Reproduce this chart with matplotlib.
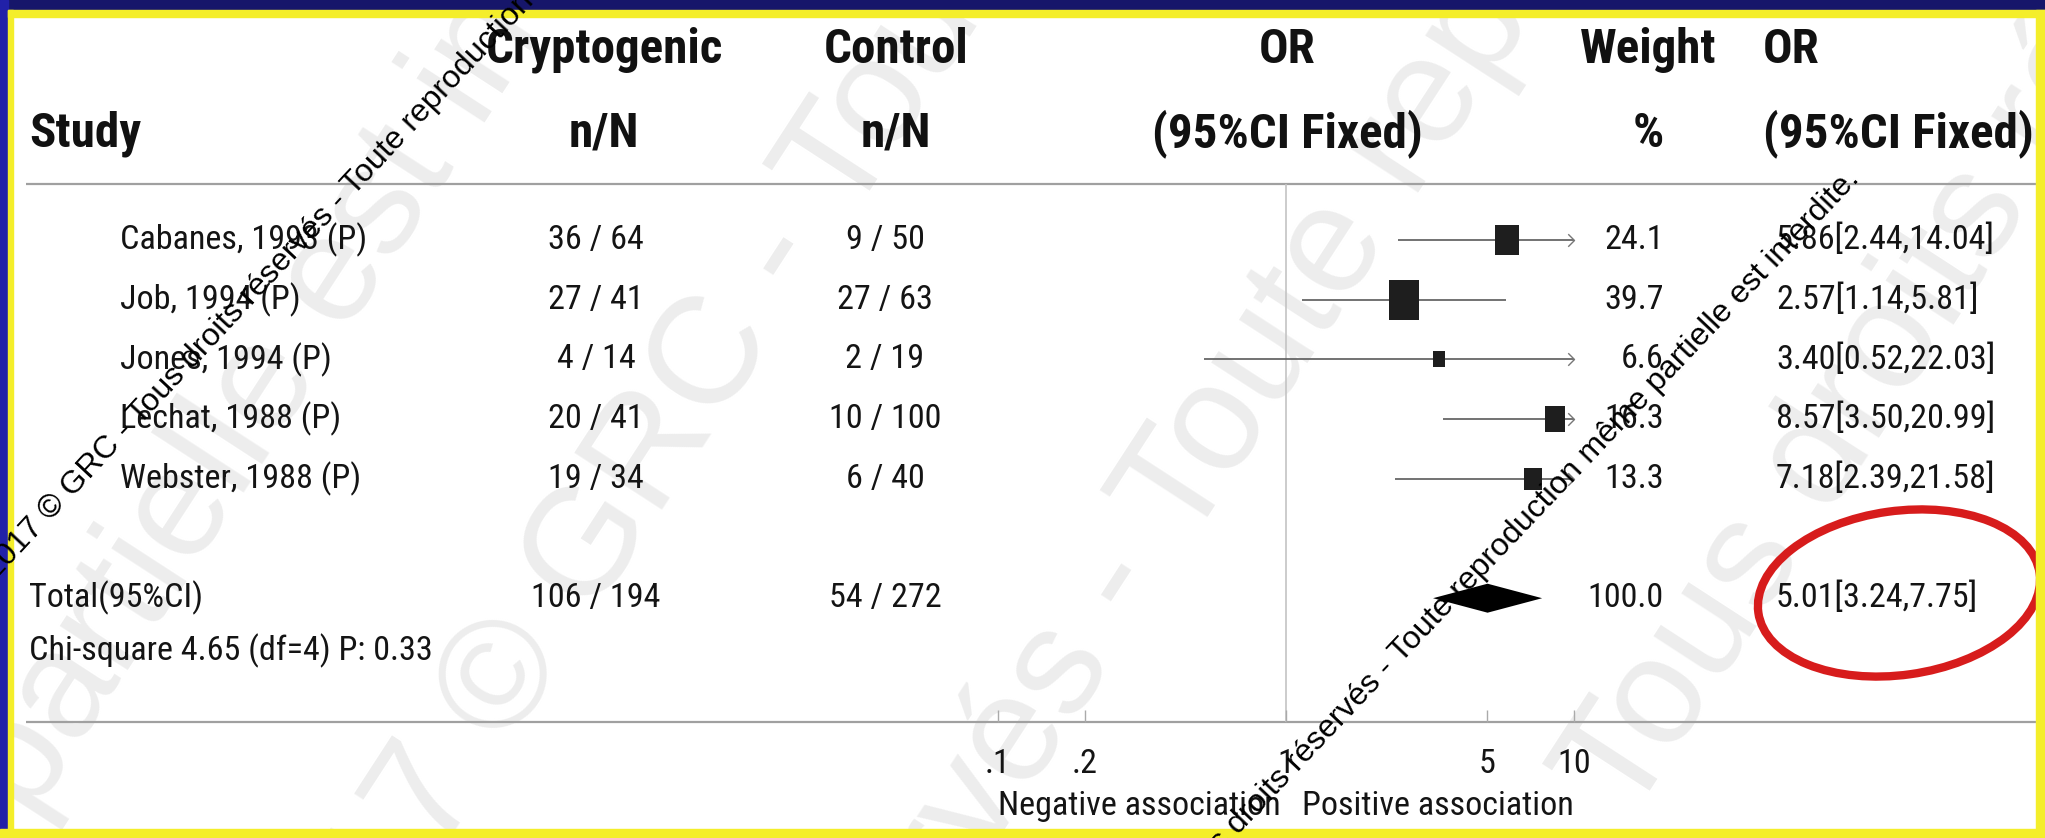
import matplotlib
matplotlib.use("Agg")
import matplotlib.pyplot as plt
from matplotlib import font_manager
from matplotlib.font_manager import FontProperties
from matplotlib.patches import Ellipse, Rectangle
from matplotlib.path import Path
from matplotlib.textpath import TextPath
import numpy as np

# --- données ---
studies = ["Cabanes, 1993 (P)", "Job, 1994 (P)", "Jones, 1994 (P)",
           "Lechat, 1988 (P)", "Webster, 1988 (P)"]
crypto_nN = ["36 / 64", "27 / 41", "4 / 14", "20 / 41", "19 / 34"]
control_nN = ["9 / 50", "27 / 63", "2 / 19", "10 / 100", "6 / 40"]
odds_ratio = [5.86, 2.57, 3.40, 8.57, 7.18]
ci_low = [2.44, 1.14, 0.52, 3.50, 2.39]
ci_high = [14.04, 5.81, 22.03, 20.99, 21.58]
weights = [24.1, 39.7, 6.6, 16.3, 13.3]

total_label = "Total(95%CI)"
total_crypto = "106 / 194"
total_control = "54 / 272"
total_or = 5.01
total_low = 3.24
total_high = 7.75
total_weight = 100.0
het_text = "Chi-square 4.65 (df=4) P: 0.33"

x_ticks = [0.1, 0.2, 1, 5, 10]
x_ticklabels = [".1", ".2", "1", "5", "10"]
x_min_plot, x_max_plot = 0.1, 10

watermark = "2017 © GRC - Tous droits réservés - Toute reproduction même partielle est interdite."
# morceaux du grand filigrane visibles en bas de chaque diagonale
big_fragments = ["partielle est interdite.", "7 © GRC - Tous", "vés - Toute", "Tous droits"]
big_bottom_x = [0, 430, 980, 1600]

# --- polices : police étroite, taille ajustée sur la largeur lue ---
names = {f.name for f in font_manager.fontManager.ttflist}
NARROW = "Roboto Condensed" if "Roboto Condensed" in names else "Liberation Sans"


def text_width(text, family, weight="normal"):
    """Largeur (en points) du texte pour une taille de 1."""
    return TextPath((0, 0), text, size=1,
                    prop=FontProperties(family=family, weight=weight)).get_extents().width


HEAD = 265 * 0.72 / text_width("(95%CI Fixed)", NARROW, "bold")
BODY = 400 * 0.72 / text_width(het_text, NARROW)

W, H = 2045, 838
fig = plt.figure(figsize=(W / 100, H / 100), dpi=100)
fig.patch.set_facecolor("white")

# axe "pixels" pour le tableau
ax = fig.add_axes([0, 0, 1, 1])
ax.set_xlim(0, W)
ax.set_ylim(H, 0)
ax.axis("off")

# axe log pour le forest plot (1 -> x=1286 px, 288 px par décade)
X1, DEC = 1286, 288
fp = fig.add_axes([0, 0, 1, 1])
fp.set_xscale("log")
fp.set_xlim(10 ** (-X1 / DEC), 10 ** ((W - X1) / DEC))
fp.set_ylim(H, 0)
fp.patch.set_visible(False)
for s in fp.spines.values():
    s.set_visible(False)
fp.yaxis.set_visible(False)

# grand filigrane clair en fond
BIG, ANG = 110, 57
th = np.deg2rad(ANG)
long_wm = watermark + " " + watermark
for xb, frag in zip(big_bottom_x, big_fragments):
    idx = long_wm.find(frag, len(watermark) // 2)
    d = text_width(long_wm[:idx], "Liberation Sans") * BIG * 100 / 72
    ax.text(xb - d * np.cos(th), H + 30 + d * np.sin(th), long_wm, fontsize=BIG,
            color="#ededed", rotation=ANG, rotation_mode="anchor", ha="left",
            va="baseline", family="Liberation Sans", zorder=0, clip_on=True)

# cadre
ax.add_patch(Rectangle((0, 0), W, 10, color="#16166a", zorder=30))
ax.add_patch(Rectangle((0, 0), 8, H, color="#2121a8", zorder=30))
ax.add_patch(Rectangle((8, 10), W, 7, color="#f4ee2a", zorder=30))
ax.add_patch(Rectangle((8, 10), 5, H, color="#f4ee2a", zorder=30))
ax.add_patch(Rectangle((0, 829), W, 9, color="#f4ee2a", zorder=30))
ax.add_patch(Rectangle((2036, 10), 9, H, color="#f4ee2a", zorder=30))

# lignes de séparation
SEP_Y, AXIS_Y = 184, 722
ax.hlines([SEP_Y, AXIS_Y], 26, 2036, color="#a0a0a0", lw=1.6, zorder=2)

# en-têtes
L1, L2 = 50, 134
hkw = dict(fontsize=HEAD, fontweight="bold", family=NARROW, va="center",
           color="#111111", zorder=3)
ax.text(29, L2, "Study", ha="left", **hkw)
ax.text(604, L1, "Cryptogenic", ha="center", **hkw)
ax.text(604, L2, "n/N", ha="center", **hkw)
ax.text(896, L1, "Control", ha="center", **hkw)
ax.text(896, L2, "n/N", ha="center", **hkw)
ax.text(1287, L1, "OR", ha="center", **hkw)
ax.text(1287, L2, "(95%CI Fixed)", ha="center", **hkw)
ax.text(1648, L1, "Weight", ha="center", **hkw)
ax.text(1648, L2, "%", ha="center", **hkw)
ax.text(1763, L1, "OR", ha="left", **hkw)
ax.text(1763, L2, "(95%CI Fixed)", ha="left", **hkw)

# lignes d'études
ROW0, STEP = 240, 59.7
row_y = ROW0 + STEP * np.arange(len(studies))
total_y = ROW0 + STEP * (len(studies) + 1)
het_y = 651
bkw = dict(fontsize=BODY, family=NARROW, va="center", color="#141414", zorder=3)
for i, y in enumerate(row_y):
    ax.text(120, y, studies[i], ha="left", **bkw)
    ax.text(596, y, crypto_nN[i], ha="center", **bkw)
    ax.text(885, y, control_nN[i], ha="center", **bkw)
    ax.text(1664, y, f"{weights[i]:.1f}", ha="right", **bkw)
    ax.text(1776, y, f"{odds_ratio[i]:.2f}[{ci_low[i]:.2f},{ci_high[i]:.2f}]", ha="left", **bkw)

ax.text(29, total_y, total_label, ha="left", **bkw)
ax.text(596, total_y, total_crypto, ha="center", **bkw)
ax.text(885, total_y, total_control, ha="center", **bkw)
ax.text(1664, total_y, f"{total_weight:.1f}", ha="right", **bkw)
ax.text(1776, total_y, f"{total_or:.2f}[{total_low:.2f},{total_high:.2f}]", ha="left", **bkw)
ax.text(29, het_y, het_text, ha="left", **bkw)

# forest plot
fp.vlines(1, SEP_Y, AXIS_Y, color="#c4c4c4", lw=1.2, zorder=1)
lo = np.maximum(ci_low, x_min_plot)
hi = np.minimum(ci_high, x_max_plot)
fp.hlines(row_y, lo, hi, color="#5a5a5a", lw=1.2, zorder=3)

chevron = Path([(-1, 1), (0, 0), (-1, -1)], [Path.MOVETO, Path.LINETO, Path.LINETO])
clipped = np.array(ci_high) > x_max_plot
fp.plot(hi[clipped], row_y[clipped], ls="none", marker=chevron, ms=9,
        mfc="none", mec="#777777", mew=1.0, zorder=3)

box = Path([(-0.385, -0.5), (0.385, -0.5), (0.385, 0.5), (-0.385, 0.5), (-0.385, -0.5)],
           [Path.MOVETO, Path.LINETO, Path.LINETO, Path.LINETO, Path.CLOSEPOLY])
for i, y in enumerate(row_y):
    ms = 6.2 * np.sqrt(weights[i]) * 0.72
    fp.plot(odds_ratio[i], y, marker=box, ms=ms, color="#1e1e1e", mew=0, zorder=4)

fp.fill([total_low, total_or, total_high, total_or],
        [total_y, total_y - 14.5, total_y, total_y + 14.5],
        color="black", lw=0, zorder=4)

# axe des x
fp.spines["bottom"].set_position(("data", AXIS_Y))
fp.set_xticks(x_ticks, x_ticklabels)
fp.xaxis.set_minor_locator(matplotlib.ticker.NullLocator())
fp.tick_params(axis="x", direction="in", length=9, width=1, color="#aaaaaa",
               pad=19, labelsize=BODY, labelcolor="#141414")
for lab in fp.get_xticklabels():
    lab.set_family(NARROW)
fp.text(x_min_plot, 806, "Negative association", ha="left", va="center",
        fontsize=BODY, family=NARROW, color="#141414")
fp.text(x_max_plot, 806, "Positive association", ha="right", va="center",
        fontsize=BODY, family=NARROW, color="#141414")

# ellipse rouge autour du total
ax.add_patch(Ellipse((1899, 593), 284, 164, angle=-8, fill=False,
                     ec="#d71c1c", lw=6, zorder=6))

# filigrane noir
fp.text(-4, 580, watermark, transform=ax.transData, fontsize=23, rotation=47,
        rotation_mode="anchor", ha="left", va="baseline", family="Liberation Sans",
        color="black", zorder=20)
fp.text(1860, 180, watermark, transform=ax.transData, fontsize=23, rotation=46.5,
        rotation_mode="anchor", ha="right", va="baseline", family="Liberation Sans",
        color="black", zorder=20)

fig.savefig("out.png", dpi=100)
